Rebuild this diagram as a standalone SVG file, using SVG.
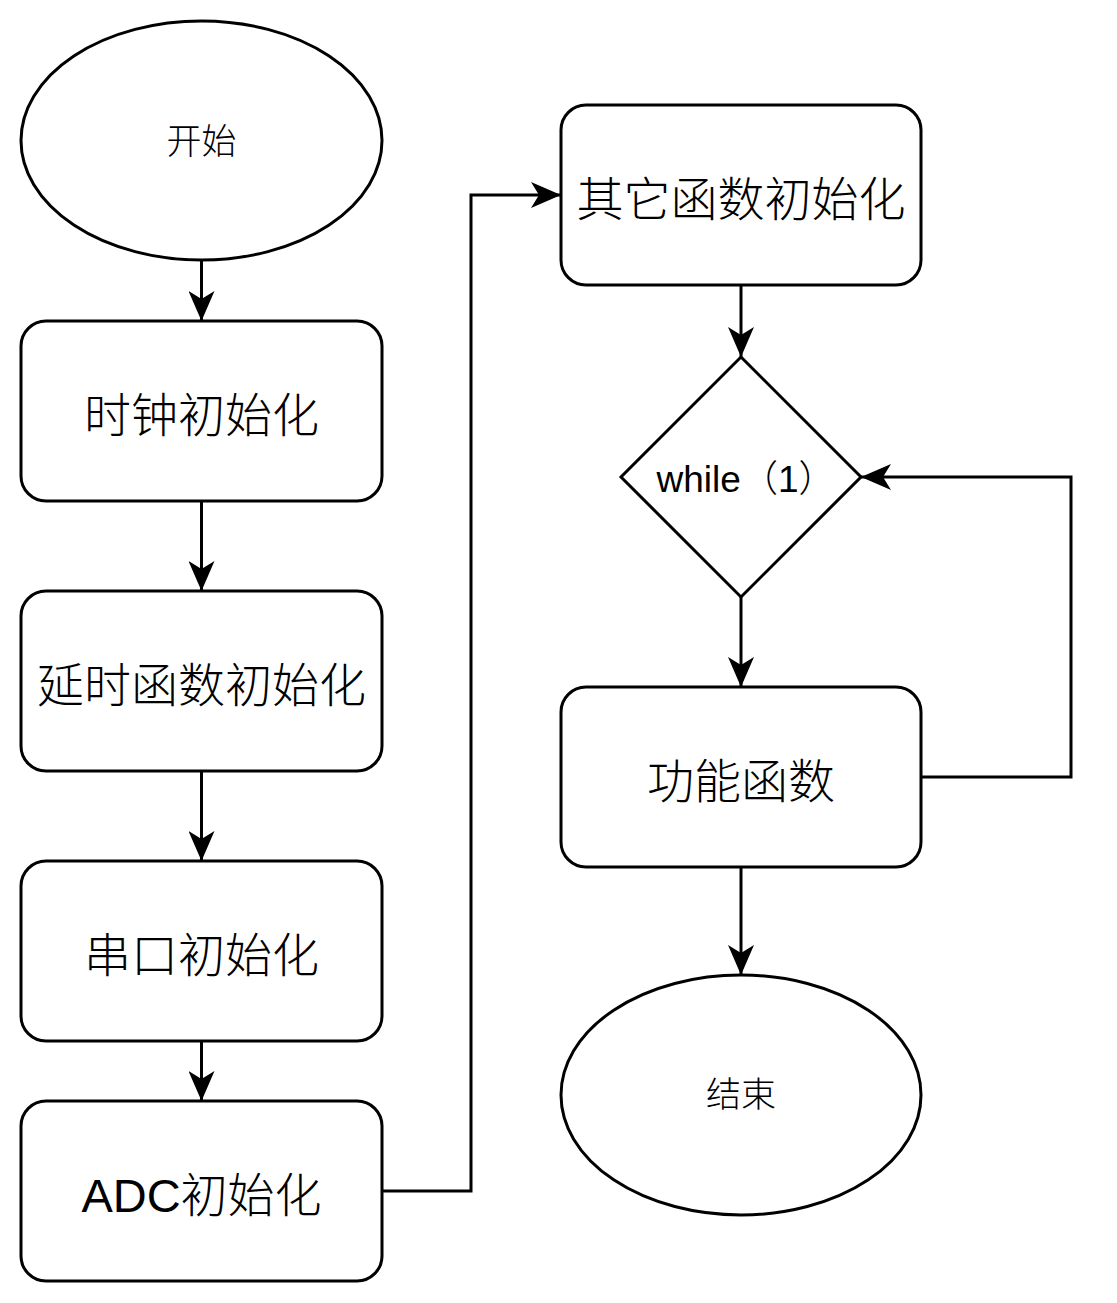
<svg xmlns="http://www.w3.org/2000/svg" width="1117" height="1303" viewBox="0 0 1117 1303">
<style>
.shape{fill:#fff;stroke:#000;stroke-width:3}
.edge{fill:none;stroke:#000;stroke-width:3}
.cjk{font-family:"Noto Sans CJK SC","Noto Sans CJK TC",sans-serif;font-weight:300;fill:#000;text-anchor:middle}
.mix{font-family:"Liberation Sans","Noto Sans CJK SC",sans-serif;fill:#000;text-anchor:middle}
.thin{font-family:"Noto Sans CJK SC","Noto Sans CJK TC",sans-serif;font-weight:300}
.big{font-size:47px}
.small{font-size:35px}
.mid{font-size:37px}
</style>
<defs>
<marker id="arr" markerUnits="userSpaceOnUse" viewBox="0 0 30 26" markerWidth="30" markerHeight="26" refX="30" refY="13" orient="auto">
<path d="M0,0 L30,13 L0,26 L8,13 Z" fill="#000"/>
</marker>
</defs>
<g id="connectors">
<path class="edge" d="M201.5,261 V321" marker-end="url(#arr)"/>
<path class="edge" d="M201.5,501 V591" marker-end="url(#arr)"/>
<path class="edge" d="M201.5,771 V861" marker-end="url(#arr)"/>
<path class="edge" d="M201.5,1041 V1101" marker-end="url(#arr)"/>
<path class="edge" d="M382,1191 H471 V195 H561" marker-end="url(#arr)"/>
<path class="edge" d="M741,285 V357" marker-end="url(#arr)"/>
<path class="edge" d="M741,597 V687" marker-end="url(#arr)"/>
<path class="edge" d="M921,777 H1071 V477 H861" marker-end="url(#arr)"/>
<path class="edge" d="M741,867 V975" marker-end="url(#arr)"/>
</g>
<g id="start">
<ellipse class="shape" cx="201.5" cy="140.5" rx="180.5" ry="119.5"/>
<text class="cjk small" x="201.5" y="154">开始</text>
</g>
<g id="clock">
<rect class="shape" x="21" y="321" width="361" height="180" rx="25"/>
<text class="cjk big" x="201.5" y="432">时钟初始化</text>
</g>
<g id="delay">
<rect class="shape" x="21" y="591" width="361" height="180" rx="25"/>
<text class="cjk big" x="201.5" y="702">延时函数初始化</text>
</g>
<g id="uart">
<rect class="shape" x="21" y="861" width="361" height="180" rx="25"/>
<text class="cjk big" x="201.5" y="972">串口初始化</text>
</g>
<g id="adc">
<rect class="shape" x="21" y="1101" width="361" height="180" rx="25"/>
<text class="mix big" x="201.5" y="1212">ADC<tspan class="thin">初始化</tspan></text>
</g>
<g id="other">
<rect class="shape" x="561" y="105" width="360" height="180" rx="25"/>
<text class="cjk big" x="741" y="216">其它函数初始化</text>
</g>
<g id="loop">
<polygon class="shape" points="741,357 861,477 741,597 621,477"/>
<text class="mix mid" x="746" y="492">while<tspan class="thin">（</tspan>1<tspan class="thin">）</tspan></text>
</g>
<g id="func">
<rect class="shape" x="561" y="687" width="360" height="180" rx="25"/>
<text class="cjk big" x="741" y="798">功能函数</text>
</g>
<g id="end">
<ellipse class="shape" cx="741" cy="1095" rx="180" ry="120"/>
<text class="cjk small" x="741" y="1107">结束</text>
</g>
</svg>
